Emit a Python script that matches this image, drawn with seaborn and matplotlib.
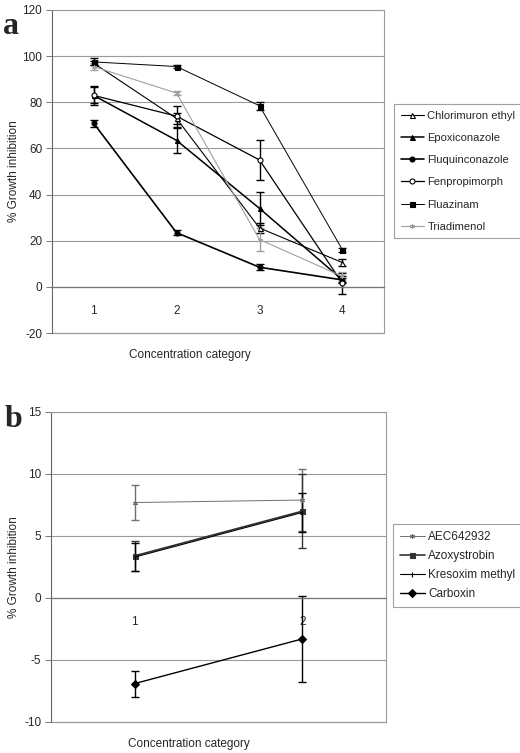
import matplotlib
matplotlib.use("Agg")
import matplotlib.pyplot as plt
import seaborn as sns

# panel a
cats_a = ["1", "2", "3", "4"]
chlorimuron = [97, 73, 25.5, 10.5]
chlorimuron_err = [1, 2.5, 2, 1.5]
epoxiconazole = [83, 63.5, 34, 3]
epoxiconazole_err = [3.5, 5.5, 7, 1.5]
fluquinconazole = [71, 23.5, 8.5, 3]
fluquinconazole_err = [1.5, 1.2, 1.2, 1]
fenpropimorph = [83, 74, 55, 1.5]
fenpropimorph_err = [4, 4.5, 8.5, 4.5]
fluazinam = [97.5, 95.5, 78.5, 16]
fluazinam_err = [1.5, 0.8, 1.8, 1]
triadimenol = [95.5, 84, 20.5, 4.5]
triadimenol_err = [1.5, 1, 5, 2]

# panel b
cats_b = ["1", "2"]
aec = [7.7, 7.9]
aec_err = [1.4, 2.5]
azoxystrobin = [3.4, 7.0]
azoxystrobin_err = [1.2, 3.0]
kresoxim = [3.3, 6.9]
kresoxim_err = [1.1, 1.6]
carboxin = [-6.9, -3.3]
carboxin_err = [1.05, 3.45]

sns.set_theme(style="white")
plt.rcParams["font.family"] = ["Liberation Sans", "DejaVu Sans"]
plt.rcParams["axes.unicode_minus"] = False

fig = plt.figure(figsize=(5.2, 7.53), dpi=100)
ax_a = fig.add_axes([52/520, 1-333/753, 332/520, 323/753])
ax_b = fig.add_axes([51/520, 1-722/753, 335/520, 310/753])

GRAY = "#a0a0a0"

series_a = [
    ("Chlorimuron ethyl", chlorimuron, chlorimuron_err, "^", "white", "black", 0.8),
    ("Epoxiconazole", epoxiconazole, epoxiconazole_err, "^", "black", "black", 1.1),
    ("Fluquinconazole", fluquinconazole, fluquinconazole_err, "o", "black", "black", 1.2),
    ("Fenpropimorph", fenpropimorph, fenpropimorph_err, "o", "white", "black", 0.9),
    ("Fluazinam", fluazinam, fluazinam_err, "s", "black", "black", 0.7),
    ("Triadimenol", triadimenol, triadimenol_err, (6, 2, 0), GRAY, GRAY, 0.8),
]

series_b = [
    ("AEC642932", aec, aec_err, (6, 2, 0), "#707070", "#707070", 0.7),
    ("Azoxystrobin", azoxystrobin, azoxystrobin_err, "s", "#333333", "#333333", 1.2),
    ("Kresoxim methyl", kresoxim, kresoxim_err, "|", "black", "black", 0.8),
    ("Carboxin", carboxin, carboxin_err, "D", "black", "black", 1.0),
]


def draw(ax, cats, series, ylim, step, msize):
    pos = list(range(len(cats)))
    for name, vals, err, mk, fc, col, lw in series:
        sns.lineplot(x=pos, y=vals, ax=ax, color=col, marker=mk,
                     markerfacecolor=fc, markeredgecolor=col,
                     markeredgewidth=0.8, markersize=msize, linewidth=lw,
                     label=name, errorbar=None, zorder=3)
        ax.errorbar(pos, vals, yerr=err, fmt="none", ecolor=col,
                    elinewidth=1.0, capsize=3, capthick=1.0, zorder=2)
    ax.set_xlim(-0.5, len(cats) - 0.5)
    ax.set_ylim(*ylim)
    ax.set_yticks(range(ylim[0], ylim[1] + 1, step))
    ax.yaxis.grid(True, color="#9a9a9a", lw=0.8)
    ax.axhline(ylim[0], color="#9a9a9a", lw=0.9, clip_on=False, zorder=1)
    ax.set_axisbelow(True)
    ax.set_xticks(pos, cats)
    ax.set_xticks([p + 0.5 for p in pos[:-1]], minor=True)
    ax.tick_params(axis="x", which="major", length=0, pad=13, labelsize=8.5)
    ax.tick_params(axis="x", which="minor", length=3, direction="out",
                   width=0.7, color="#555555")
    ax.tick_params(axis="y", length=4, width=0.7, color="#777777",
                   direction="out", labelsize=8.5, pad=3, left=True)
    ax.spines["bottom"].set_position(("data", 0))
    ax.spines["bottom"].set_color("#777777")
    ax.spines["bottom"].set_linewidth(0.9)
    ax.spines["left"].set_color("#666666")
    ax.spines["left"].set_linewidth(0.8)
    for s in ["top", "right"]:
        ax.spines[s].set_color("#9a9a9a")
        ax.spines[s].set_linewidth(0.8)
    ax.set_xlabel("Concentration category", fontsize=8.5)
    ax.set_ylabel("% Growth inhibition", fontsize=8.5)


draw(ax_a, cats_a, series_a, (-20, 120), 20, 3.6)
draw(ax_b, cats_b, series_b, (-10, 15), 5, 3.6)

ax_a.xaxis.set_label_coords(0.416, -0.05)
ax_a.yaxis.set_label_coords(-0.096, 0.5)
ax_b.xaxis.set_label_coords(0.412, -0.052)
ax_b.yaxis.set_label_coords(-0.093, 0.5)

leg_kw = dict(loc="upper left", frameon=True, fancybox=False,
              edgecolor="#888888", handlelength=2.1, handletextpad=0.3,
              borderpad=0.6, borderaxespad=0, bbox_transform=fig.transFigure)
la = ax_a.legend(bbox_to_anchor=(394/520, 1-104/753), fontsize=8,
                 labelspacing=1.1, **leg_kw)
lb = ax_b.legend(bbox_to_anchor=(393/520, 1-524/753), fontsize=8.5,
                 labelspacing=0.6, **leg_kw)
for lg in (la, lb):
    lg.get_frame().set_linewidth(0.8)

fig.text(3/520, 1-12/753, "a", fontsize=23, fontweight="bold",
         family="Liberation Serif", va="top")
fig.text(5/520, 1-405/753, "b", fontsize=23, fontweight="bold",
         family="Liberation Serif", va="top")

fig.savefig("out.png", dpi=100)
